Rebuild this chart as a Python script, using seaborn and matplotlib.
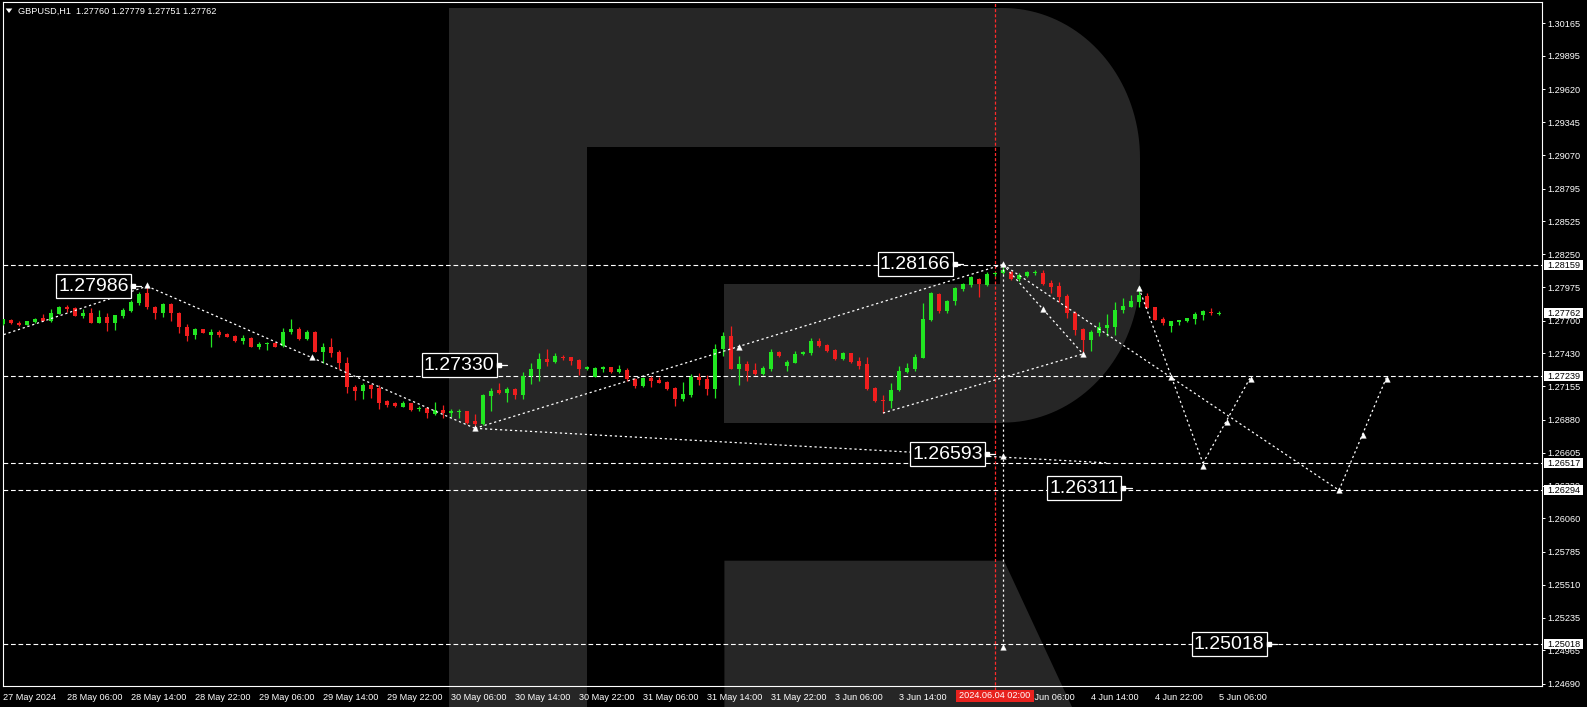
import numpy as np
import pandas as pd
import matplotlib
matplotlib.use("Agg")
import matplotlib.pyplot as plt
import seaborn as sns
from matplotlib.patches import Polygon, Rectangle
from matplotlib import font_manager as fm

# ---------------- data ----------------
title_text = "GBPUSD,H1  1.27760 1.27779 1.27751 1.27762"

opens = [
    1.27672, 1.27706, 1.27675, 1.27664, 1.27689, 1.27722, 1.27700, 1.27755, 1.27813, 1.27802,
    1.27739, 1.27766, 1.27683, 1.27733, 1.27683, 1.27741, 1.27780, 1.27849, 1.27927, 1.27816,
    1.27766, 1.27838, 1.27761, 1.27645, 1.27578, 1.27628, 1.27584, 1.27609, 1.27589, 1.27573,
    1.27534, 1.27556, 1.27484, 1.27504, 1.27515, 1.27490, 1.27603, 1.27631, 1.27548, 1.27609,
    1.27443, 1.27484, 1.27440, 1.27346, 1.27153, 1.27114, 1.27169, 1.27144, 1.27037, 1.27020,
    1.26987, 1.27015, 1.26965, 1.26976, 1.26926, 1.26959, 1.26937, 1.26943, 1.26948, 1.26868,
    1.26843, 1.27078, 1.27125, 1.27103, 1.27133, 1.27084, 1.27241, 1.27296, 1.27382, 1.27360,
    1.27402, 1.27396, 1.27374, 1.27299, 1.27236, 1.27302, 1.27316, 1.27277, 1.27291, 1.27214,
    1.27158, 1.27225, 1.27208, 1.27191, 1.27142, 1.27053, 1.27081, 1.27236, 1.27216, 1.27133,
    1.27462, 1.27573, 1.27302, 1.27338, 1.27291, 1.27258, 1.27302, 1.27440, 1.27327, 1.27352,
    1.27421, 1.27435, 1.27534, 1.27498, 1.27457, 1.27382, 1.27429, 1.27366, 1.27341, 1.27142,
    1.27042, 1.27037, 1.27125, 1.27274, 1.27302, 1.27393, 1.27706, 1.27921, 1.27780, 1.27863,
    1.27963, 1.27996, 1.28046, 1.27999, 1.28084, 1.28093, 1.28104, 1.28046, 1.28073, 1.28093,
    1.28098, 1.28015, 1.27988, 1.27905, 1.27766, 1.27628, 1.27540, 1.27601, 1.27642, 1.27650,
    1.27789, 1.27816, 1.27858, 1.27905, 1.27813, 1.27714, 1.27656, 1.27692, 1.27700, 1.27714,
    1.27747, 1.27775, 1.27760]
highs = [
    1.27716, 1.27712, 1.27697, 1.27700, 1.27719, 1.27753, 1.27797, 1.27822, 1.27830, 1.27811,
    1.27794, 1.27802, 1.27789, 1.27761, 1.27750, 1.27802, 1.27871, 1.27941, 1.27986, 1.27820,
    1.27849, 1.27849, 1.27775, 1.27672, 1.27636, 1.27631, 1.27634, 1.27623, 1.27601, 1.27581,
    1.27584, 1.27562, 1.27523, 1.27526, 1.27520, 1.27636, 1.27714, 1.27650, 1.27623, 1.27612,
    1.27512, 1.27556, 1.27457, 1.27402, 1.27167, 1.27186, 1.27175, 1.27167, 1.27042, 1.27026,
    1.27037, 1.27020, 1.26992, 1.26981, 1.27026, 1.27001, 1.26965, 1.26970, 1.26954, 1.26926,
    1.27092, 1.27139, 1.27186, 1.27153, 1.27139, 1.27272, 1.27346, 1.27429, 1.27465, 1.27429,
    1.27418, 1.27402, 1.27379, 1.27324, 1.27319, 1.27324, 1.27319, 1.27330, 1.27305, 1.27227,
    1.27236, 1.27241, 1.27236, 1.27197, 1.27153, 1.27189, 1.27255, 1.27269, 1.27252, 1.27507,
    1.27609, 1.27656, 1.27407, 1.27366, 1.27349, 1.27324, 1.27465, 1.27446, 1.27374, 1.27449,
    1.27451, 1.27556, 1.27556, 1.27507, 1.27465, 1.27443, 1.27435, 1.27396, 1.27396, 1.27147,
    1.27084, 1.27180, 1.27324, 1.27352, 1.27424, 1.27844, 1.27941, 1.27927, 1.27871, 1.27976,
    1.28015, 1.28070, 1.28050, 1.28106, 1.28106, 1.28166, 1.28115, 1.28093, 1.28109, 1.28120,
    1.28120, 1.28037, 1.28023, 1.27921, 1.27783, 1.27637, 1.27623, 1.27689, 1.27755, 1.27858,
    1.27885, 1.27913, 1.27988, 1.27932, 1.27816, 1.27728, 1.27700, 1.27709, 1.27725, 1.27775,
    1.27789, 1.27808, 1.27779]
lows = [
    1.27668, 1.27672, 1.27656, 1.27660, 1.27683, 1.27695, 1.27689, 1.27753, 1.27775, 1.27739,
    1.27719, 1.27678, 1.27678, 1.27617, 1.27623, 1.27719, 1.27775, 1.27830, 1.27797, 1.27711,
    1.27733, 1.27700, 1.27601, 1.27534, 1.27551, 1.27598, 1.27484, 1.27567, 1.27562, 1.27520,
    1.27507, 1.27479, 1.27462, 1.27457, 1.27479, 1.27484, 1.27589, 1.27540, 1.27540, 1.27437,
    1.27352, 1.27402, 1.27299, 1.27103, 1.27042, 1.27053, 1.27056, 1.26970, 1.26987, 1.26981,
    1.26985, 1.26948, 1.26948, 1.26893, 1.26921, 1.26893, 1.26904, 1.26890, 1.26843, 1.26827,
    1.26838, 1.26954, 1.27092, 1.27028, 1.27048, 1.27048, 1.27175, 1.27203, 1.27327, 1.27346,
    1.27374, 1.27332, 1.27252, 1.27291, 1.27230, 1.27277, 1.27269, 1.27269, 1.27203, 1.27144,
    1.27147, 1.27147, 1.27180, 1.27125, 1.26992, 1.27037, 1.27070, 1.27167, 1.27084, 1.27062,
    1.27407, 1.27299, 1.27167, 1.27203, 1.27252, 1.27252, 1.27285, 1.27402, 1.27285, 1.27346,
    1.27413, 1.27415, 1.27484, 1.27443, 1.27374, 1.27374, 1.27352, 1.27302, 1.27125, 1.27028,
    1.26932, 1.26976, 1.27120, 1.27263, 1.27285, 1.27388, 1.27700, 1.27761, 1.27761, 1.27830,
    1.27949, 1.27982, 1.27899, 1.27987, 1.28070, 1.28087, 1.28037, 1.28032, 1.28065, 1.28082,
    1.27996, 1.27927, 1.27858, 1.27719, 1.27581, 1.27443, 1.27451, 1.27573, 1.27573, 1.27581,
    1.27766, 1.27811, 1.27816, 1.27802, 1.27703, 1.27664, 1.27609, 1.27667, 1.27692, 1.27672,
    1.27706, 1.27750, 1.27751]
closes = [
    1.27711, 1.27678, 1.27670, 1.27697, 1.27714, 1.27697, 1.27766, 1.27816, 1.27794, 1.27741,
    1.27766, 1.27683, 1.27733, 1.27683, 1.27747, 1.27789, 1.27855, 1.27918, 1.27811, 1.27766,
    1.27838, 1.27761, 1.27645, 1.27573, 1.27631, 1.27601, 1.27606, 1.27581, 1.27567, 1.27534,
    1.27556, 1.27484, 1.27507, 1.27518, 1.27484, 1.27606, 1.27631, 1.27548, 1.27609, 1.27443,
    1.27484, 1.27435, 1.27346, 1.27147, 1.27114, 1.27169, 1.27136, 1.27020, 1.27004, 1.26992,
    1.27020, 1.26959, 1.26979, 1.26932, 1.26959, 1.26932, 1.26948, 1.26948, 1.26854, 1.26840,
    1.27084, 1.27117, 1.27103, 1.27133, 1.27084, 1.27241, 1.27299, 1.27382, 1.27360, 1.27407,
    1.27388, 1.27368, 1.27302, 1.27319, 1.27310, 1.27319, 1.27277, 1.27302, 1.27214, 1.27158,
    1.27225, 1.27203, 1.27186, 1.27136, 1.27053, 1.27092, 1.27236, 1.27208, 1.27133, 1.27465,
    1.27573, 1.27302, 1.27338, 1.27285, 1.27258, 1.27305, 1.27440, 1.27410, 1.27357, 1.27424,
    1.27443, 1.27531, 1.27493, 1.27451, 1.27382, 1.27435, 1.27357, 1.27327, 1.27136, 1.27034,
    1.27037, 1.27125, 1.27283, 1.27308, 1.27399, 1.27714, 1.27927, 1.27780, 1.27863, 1.27971,
    1.28007, 1.28065, 1.28001, 1.28087, 1.28095, 1.28120, 1.28048, 1.28079, 1.28101, 1.28101,
    1.28004, 1.27982, 1.27899, 1.27761, 1.27623, 1.27540, 1.27606, 1.27645, 1.27664, 1.27789,
    1.27822, 1.27863, 1.27913, 1.27808, 1.27706, 1.27684, 1.27697, 1.27706, 1.27722, 1.27755,
    1.27780, 1.27761, 1.27762]

# x-axis labels (bar index of each label); the 3 Jun 22:00 label sits under the cursor box
xtick_idx = [0, 8, 16, 24, 32, 40, 48, 56, 64, 72, 80, 88, 96, 104, 112, 128, 136, 144, 152]
xtick_labels = ["27 May 2024", "28 May 06:00", "28 May 14:00", "28 May 22:00", "29 May 06:00",
                "29 May 14:00", "29 May 22:00", "30 May 06:00", "30 May 14:00", "30 May 22:00",
                "31 May 06:00", "31 May 14:00", "31 May 22:00", "3 Jun 06:00", "3 Jun 14:00",
                "4 Jun 06:00", "4 Jun 14:00", "4 Jun 22:00", "5 Jun 06:00"]
cursor_idx = 124
cursor_label = "2024.06.04 02:00"

# price axis
ytick_values = [1.30165, 1.29895, 1.29620, 1.29345, 1.29070, 1.28795, 1.28525, 1.28250, 1.27975,
                1.27700, 1.27430, 1.27155, 1.26880, 1.26605, 1.26330, 1.26060, 1.25785, 1.25510,
                1.25235, 1.24965, 1.24690]
level_prices = [1.28159, 1.27239, 1.26517, 1.26294, 1.25018]
axis_boxes = [1.28159, 1.27762, 1.27239, 1.26517, 1.26294, 1.25018]

# forecast segments (bar index, price)
seg_x = [[-1, 18], [18, 59], [59, 125], [59, 138], [110, 135], [125, 135],
         [125, 167], [142, 150], [150, 156], [167, 173], [125, 125]]
seg_y = [[1.27560, 1.27986], [1.27986, 1.26807], [1.26807, 1.28166], [1.26807, 1.26521],
         [1.26934, 1.27424], [1.28166, 1.27424], [1.28166, 1.26294], [1.27970, 1.26517],
         [1.26517, 1.27239], [1.26294, 1.27239], [1.28166, 1.25000]]
mark_x = [18, 38.6, 59, 92, 125, 130, 135, 125, 125, 142, 146, 150, 153, 156, 167, 170, 173]
mark_y = [1.27996, 1.27396, 1.26807, 1.27484, 1.28170, 1.27797, 1.27424, 1.26578, 1.24997,
          1.27968, 1.27235, 1.26497, 1.26857, 1.27216, 1.26296, 1.26752, 1.27216]

# value labels: text, bar index of the arrow tip, price
lab_text = ["1.27986", "1.27330", "1.28166", "1.26593", "1.26311", "1.25018"]
lab_idx = [17.25, 63.0, 120.0, 124.0, 141.1, 159.25]
lab_price = [1.27986, 1.27330, 1.28166, 1.26593, 1.26311, 1.25018]

# ---------------- style ----------------
sns.set_style("dark")
names = {f.name for f in fm.fontManager.ttflist}
if "Liberation Sans Narrow" in names:
    FONT, AX_FS, BIG_FS = "Liberation Sans Narrow", 8.0, 16.5
elif "Liberation Sans" in names:
    FONT, AX_FS, BIG_FS = "Liberation Sans", 6.6, 14.0
else:
    FONT, AX_FS, BIG_FS = "DejaVu Sans", 5.9, 12.5
plt.rcParams["font.family"] = [FONT, "DejaVu Sans"]
plt.rcParams["lines.scale_dashes"] = False
GREEN = "#22e622"
RED = "#f01e1e"
LOGO = "#262626"

W, H = 1587, 707
fig = plt.figure(figsize=(W / 100, H / 100), dpi=100, facecolor="black")

# background layer (pixel coordinates, y down) with the logo
bg = fig.add_axes([0, 0, 1, 1], zorder=0)
bg.set_xlim(0, W)
bg.set_ylim(H, 0)
bg.axis("off")
stem = [(448.5, 8), (586.7, 8), (586.7, H), (448.5, H)]
topbar = [(586.7, 8), (1003, 8), (1003, 146.6), (586.7, 146.6)]
r_top, r_bot = 150.0, 150.0
a1 = np.linspace(np.pi / 2, 0, 40)
a2 = np.linspace(0, -np.pi / 2, 40)
bowl = [(1000, 8)] + [(1003 + 137 * np.cos(t), 8 + r_top - r_top * np.sin(t)) for t in a1] + \
       [(1003 + 137 * np.cos(t), 422.6 - r_bot - r_bot * np.sin(t)) for t in a2] + [(1000, 422.6)]
midbar = [(724.4, 284), (1003, 284), (1003, 422.6), (724.4, 422.6)]
leg = [(724.4, 560.7), (1004, 560.7), (1072, H), (724.4, H)]
for poly in (stem, topbar, bowl, midbar, leg):
    bg.add_patch(Polygon(poly, closed=True, facecolor=LOGO, edgecolor="none"))

# main chart axes
L, R, T, B = 2.5, 1541.5, 2.0, 686.0
ax = fig.add_axes([L / W, (H - B) / H, (R - L) / W, (B - T) / H], zorder=1)
ax.set_facecolor("none")
ax.grid(False)
ax.set_xlim(-0.0625, 192.3125)
ax.set_ylim(1.246706, 1.303423)
for s in ax.spines.values():
    s.set_color("white")
    s.set_linewidth(0.8)

df = pd.DataFrame({"open": opens, "high": highs, "low": lows, "close": closes})
df["idx"] = np.arange(len(df))
up = df["close"] >= df["open"]
cols = np.where(up, GREEN, RED)
ax.vlines(df["idx"], df["low"], df["high"], colors=cols, linewidth=0.9, zorder=3)
mid = (df["open"] + df["close"]) / 2
hgt = np.maximum((df["close"] - df["open"]).abs(), 0.00009)
ax.bar(df["idx"], hgt, bottom=mid - hgt / 2, width=0.62, color=cols, linewidth=0, zorder=4)

# horizontal levels
for p in level_prices:
    ax.axhline(p, color="white", lw=0.8, ls=(0, (3.4, 2.0)), zorder=2)

# cursor line (red) extending into the time-axis area
ax.axvline(cursor_idx, ymin=-0.006, ymax=1, color="#ff2a2a", lw=0.9,
           ls=(0, (2.2, 1.5)), clip_on=False, zorder=2)

# forecast lines
for xs, ys in zip(seg_x, seg_y):
    ax.plot(xs, ys, color="white", lw=0.9, ls=(0, (1.6, 2.0)), zorder=5)
sns.scatterplot(x=mark_x, y=mark_y, ax=ax, marker="^", s=16, color="white",
                edgecolor="white", linewidth=0.3, zorder=6, legend=False)

# price axis
ax.yaxis.tick_right()
ax.set_yticks(ytick_values)
ax.set_yticklabels([f"{v:.5f}" for v in ytick_values])
ax.tick_params(axis="y", colors="white", length=2.5, width=0.7, pad=1.5,
               labelsize=AX_FS, direction="out")
ax.set_xticks(xtick_idx)
ax.set_xticklabels(xtick_labels, ha="left")
ax.tick_params(axis="x", colors="white", length=3, width=0.7, pad=1.8,
               labelsize=AX_FS, direction="out")
ax.set_xlabel("")
ax.set_ylabel("")

# overlay layer (pixel coordinates, y down)
ov = fig.add_axes([0, 0, 1, 1], zorder=2)
ov.set_xlim(0, W)
ov.set_ylim(H, 0)
ov.axis("off")


def to_px(i, p):
    dx, dy = ax.transData.transform((i, p))
    return dx, H - dy


# value label boxes with arrow
for txt, i, p in zip(lab_text, lab_idx, lab_price):
    px, py = to_px(i, p)
    right = px - 10.5
    bw, bh = 74.5, 24
    ov.add_patch(Rectangle((right - bw, py - bh / 2), bw, bh, facecolor="black",
                           edgecolor="white", lw=0.9, zorder=3))
    ov.text(right - bw / 2, py + 0.5, txt, color="white", fontsize=BIG_FS, ha="center",
            va="center", zorder=4)
    ov.plot([right, px], [py, py], color="white", lw=0.9, zorder=3)
    ov.plot([right + 2], [py], marker="s", ms=2.2, color="white", zorder=3)

# highlighted prices on the price axis
for p in axis_boxes:
    _, py = to_px(0, p)
    ov.add_patch(Rectangle((1544, py - 5), 39, 10, facecolor="white", edgecolor="none", zorder=3))
    ov.text(1547, py + 0.3, f"{p:.5f}", color="black", fontsize=AX_FS, ha="left",
            va="center", zorder=4)

# cursor time label
cx, _ = to_px(cursor_idx, 1.27)
ov.add_patch(Rectangle((cx - 39, 690), 78, 11.5, facecolor="#e8221e", edgecolor="none", zorder=3))
ov.text(cx, 696, cursor_label, color="white", fontsize=AX_FS, ha="center", va="center", zorder=4)

# title
ov.add_patch(Polygon([(5.7, 8.5), (12.3, 8.5), (9, 13)], closed=True, facecolor="white",
                     edgecolor="none"))
ov.text(18, 11, title_text, color="white", fontsize=AX_FS, ha="left", va="center")

fig.savefig("out.png", dpi=100, facecolor="black")
